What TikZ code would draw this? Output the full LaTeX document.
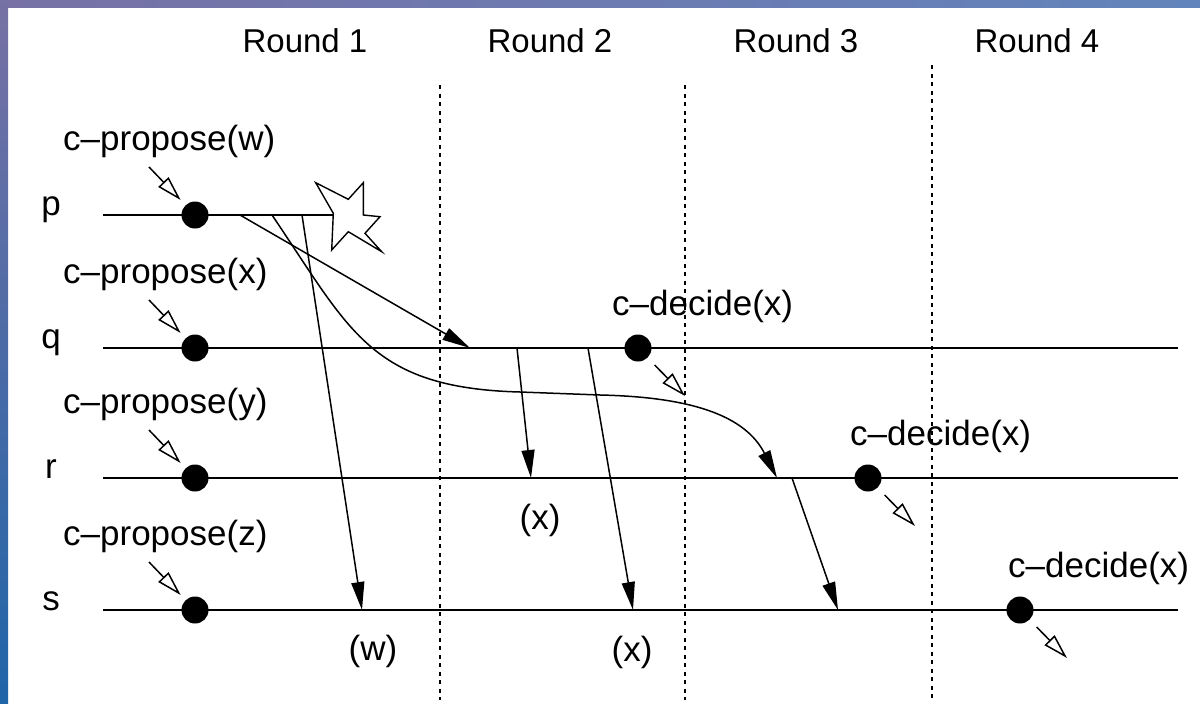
\documentclass[tikz,border=0pt]{standalone}
\usepackage{fontspec}
\setmainfont{Liberation Sans}
\usetikzlibrary{arrows.meta}
\definecolor{bandpurple}{RGB}{119,113,165}
\definecolor{bandblue}{RGB}{31,101,168}
\definecolor{bandsky}{RGB}{98,132,188}
\tikzset{
	procline/.style={line width=2.2pt},
	roundsep/.style={line width=1.8pt, dash pattern=on 4pt off 4.5pt},
	msg/.style={line width=1.5pt, -{Triangle[length=28pt, width=13pt]}},
	event/.style={line width=1.5pt, -{Triangle[open, length=25pt, width=14pt]}},
	dot/.style={circle, fill=black, inner sep=0pt, minimum size=27pt},
	lbl/.style={font=\fontsize{35}{40}\selectfont, inner sep=0pt},
	roundlbl/.style={font=\fontsize{33}{38}\selectfont, inner sep=0pt}
}

\begin{document}
\begin{tikzpicture}[x=1pt, y=-1pt]
	\useasboundingbox (0,0) rectangle (1200,704);
	\shade[left color=bandpurple, right color=bandsky] (0,0) rectangle (1200,7);
	\shade[top color=bandpurple, bottom color=bandblue] (0,0) rectangle (8,704);
	\foreach \x/\n in {305/1, 550/2, 796/3, 1037/4}
		\node[roundlbl, anchor=base] (round\n) at (\x,52) {Round \n};
	\foreach \x/\y in {440/85, 685/85, 932/65}
		\draw[roundsep] (\x,\y) -- (\x,700);
	\coordinate (p0) at (103,215);
	\coordinate (crash) at (333,215);
	\draw[procline] (p0) -- (crash);
	\foreach \n/\y in {q/348, r/478, s/610} {
		\coordinate (\n0) at (103,\y);
		\coordinate (\n1) at (1178,\y);
		\draw[procline] (\n0) -- (\n1);
	}
	\draw[line width=1.4pt, fill=white] (315.7,182.7) -- (348.3,199.3) -- (363.3,182.7) -- (363.3,215) -- (380,216.7) -- (365,233.3) -- (381.7,251.7) -- (348.3,231.7) -- (331.7,250) -- (333.3,213.3) -- cycle;
	\foreach \n/\y/\v in {p/215/w, q/348/x, r/478/y, s/610/z} {
		\node[lbl, anchor=base] (name\n) at (51,\y) {\n};
		\node[lbl, anchor=base west] (prop\n) at (63,\y-65) {c--propose(\v)};
		\node[dot] (start\n) at (195,\y) {};
		\draw[event, shorten >=7pt] (start\n) ++(-46,-48) -- (start\n);
	}
	\coordinate (M1s) at (240,215);
	\coordinate (M1e) at (470,348);
	\coordinate (M2s) at (272,215);
	\coordinate (M2e) at (777,478);
	\coordinate (M3s) at (302,215);
	\coordinate (M3e) at (362,610);
	\coordinate (M4s) at (517,348);
	\coordinate (M4e) at (531,478);
	\coordinate (M5s) at (588,348);
	\coordinate (M5e) at (633,610);
	\coordinate (M6s) at (792,478);
	\coordinate (M6e) at (838,610);
	\draw[msg] (M1s) -- (M1e);
	\draw[msg] (M2s) .. controls (350,330) and (370,388) .. (520,392) -- (600,395) .. controls (690,397) and (745,415) .. (M2e);
	\draw[msg] (M3s) -- (M3e);
	\draw[msg] (M4s) -- (M4e);
	\draw[msg] (M5s) -- (M5e);
	\draw[msg] (M6s) -- (M6e);
	\node[lbl] (valw) at (373,651) {(w)};
	\node[lbl] (valxr) at (540,520) {(x)};
	\node[lbl] (valxs) at (632,652) {(x)};
	\node[dot] (decq) at (638,348) {};
	\node[dot] (decr) at (868,478) {};
	\node[dot] (decs) at (1020,610) {};
	\node[lbl, anchor=base west] (outq) at (612,315) {c--decide(x)};
	\node[lbl, anchor=base west] (outr) at (850,445) {c--decide(x)};
	\node[lbl, anchor=base west] (outs) at (1008,577) {c--decide(x)};
	\foreach \d in {decq, decr, decs}
		\draw[event, shorten <=10pt] (\d) -- ++(47,48);
\end{tikzpicture}
\end{document}
